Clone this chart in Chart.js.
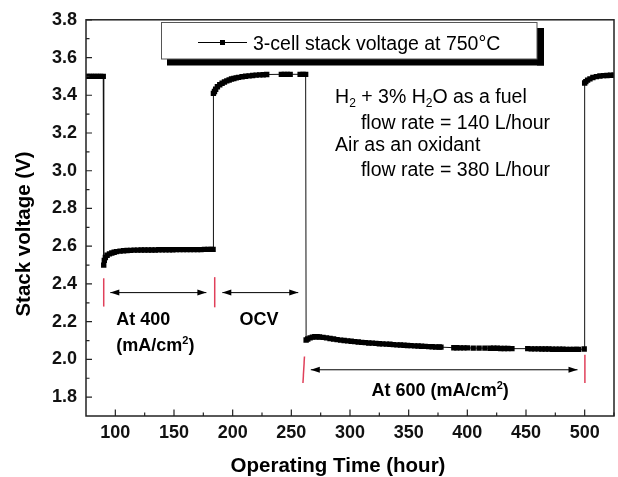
<!DOCTYPE html>
<html>
<head>
<meta charset="utf-8">
<title>3-cell stack voltage</title>
<script src="https://cdn.jsdelivr.net/npm/chart.js@4.4.0/dist/chart.umd.min.js"></script>
<style>
  body { margin: 0; background: #fff; }
  canvas { display: block; }
</style>
</head>
<body>
<canvas id="myChart" width="618" height="477"></canvas>
<script>
// OCV before the first load step
const ocvStartHours = [75.5, 77.5, 79.5, 81.5, 83.5, 85.5, 87.5, 89.7];
const ocvStartVolts = [3.50, 3.50, 3.50, 3.50, 3.50, 3.50, 3.50, 3.50];

// 400 mA/cm2
const load400Hours = [90.1, 90.6, 91.5, 93, 95, 97, 99, 101,
  104, 107, 110, 113, 116, 119, 122, 125, 128, 131,
  134, 137, 140, 143, 146, 149, 152, 155, 158, 161,
  164, 167, 170, 173, 176, 179, 181.5, 183.3];
const load400Volts = [2.50, 2.525, 2.54, 2.552, 2.559, 2.564, 2.568, 2.571,
  2.574, 2.576, 2.577, 2.578, 2.579, 2.579, 2.58, 2.58, 2.58, 2.58,
  2.58, 2.581, 2.581, 2.581, 2.581, 2.581, 2.582, 2.582, 2.582, 2.582,
  2.582, 2.582, 2.582, 2.582, 2.583, 2.583, 2.583, 2.583];

// OCV between the loads
const ocvMidHours = [183.6, 184.5, 185.5, 187, 189, 191, 193, 195, 197, 199,
  201, 203, 205, 208, 211, 214, 217, 220, 223, 226,
  229, 241.5, 244, 246.5, 249, 257.5, 260, 262.2];
const ocvMidVolts = [3.41, 3.42, 3.432, 3.445, 3.456, 3.464, 3.47, 3.476, 3.481, 3.486,
  3.489, 3.492, 3.495, 3.498, 3.501, 3.503, 3.505, 3.507, 3.508, 3.509,
  3.51, 3.511, 3.511, 3.511, 3.511, 3.511, 3.511, 3.511];

// 600 mA/cm2
const load600Hours = [262.6, 264, 266, 268, 270, 272, 274, 277, 280, 283,
  286, 289, 292, 295, 298, 301, 304, 307, 310, 313,
  316, 319, 322, 325, 328, 331, 334, 337, 340, 343,
  346, 349, 352, 355, 358, 361, 364, 367, 370, 373,
  376, 377.5, 388.5, 391, 394, 397, 400, 405, 410, 415,
  419.5, 422.5, 425.5, 428.5, 431.5, 434.5, 438, 451.5, 454.5, 457.5,
  460.5, 463.5, 466.5, 469.5, 472.5, 475.5, 478.5, 481.5, 484.5, 487.5,
  490.5, 493, 494.7, 499.6];
const load600Volts = [2.103, 2.108, 2.114, 2.118, 2.12, 2.12, 2.119, 2.117, 2.114, 2.111,
  2.108, 2.105, 2.102, 2.1, 2.098, 2.096, 2.094, 2.092, 2.09, 2.089,
  2.087, 2.086, 2.085, 2.083, 2.082, 2.081, 2.08, 2.078, 2.077, 2.076,
  2.075, 2.074, 2.073, 2.072, 2.071, 2.07, 2.069, 2.068, 2.067, 2.066,
  2.066, 2.065, 2.062, 2.062, 2.061, 2.061, 2.061, 2.06, 2.06, 2.06,
  2.059, 2.059, 2.059, 2.058, 2.058, 2.058, 2.057, 2.057, 2.056, 2.056,
  2.056, 2.055, 2.055, 2.055, 2.054, 2.054, 2.054, 2.054, 2.053, 2.053,
  2.053, 2.053, 2.053, 2.055];

// OCV after unloading
const ocvEndHours = [500, 501, 502.5, 504.5, 507, 510, 513, 516, 519, 522, 525];
const ocvEndVolts = [3.465, 3.472, 3.48, 3.487, 3.494, 3.499, 3.502, 3.504, 3.505, 3.506, 3.506];

const xTicks = [100, 150, 200, 250, 300, 350, 400, 450, 500];
const yTicks = [1.8, 2.0, 2.2, 2.4, 2.6, 2.8, 3.0, 3.2, 3.4, 3.6, 3.8];

const seriesLabel = '3-cell stack voltage at 750\u00B0C';

const FONT = '"Liberation Sans", Arial, Helvetica, sans-serif';

function toPoints(hours, volts) {
  return hours.map((h, i) => ({ x: h, y: volts[i] }));
}

const points = [].concat(
  toPoints(ocvStartHours, ocvStartVolts),
  toPoints(load400Hours, load400Volts),
  toPoints(ocvMidHours, ocvMidVolts),
  toPoints(load600Hours, load600Volts),
  toPoints(ocvEndHours, ocvEndVolts)
);

// annotations, in data units
const redMarks = [
  { h1: 90.1, v1: 2.43, h2: 90.1, v2: 2.28 },
  { h1: 184.7, v1: 2.436, h2: 184.7, v2: 2.276 },
  { h1: 261.2, v1: 2.015, h2: 259.9, v2: 1.875 },
  { h1: 500.2, v1: 2.024, h2: 500.2, v2: 1.875 }
];
const arrows = [
  { h1: 95.7, h2: 177.6, v: 2.354 },
  { h1: 191.2, h2: 255.9, v: 2.354 },
  { h1: 266.6, h2: 493.9, v: 1.945 }
];

function richText(ctx, x, y, parts, size, weight) {
  parts.forEach(p => {
    const small = p.sub || p.sup;
    const s = small ? Math.round(size * 0.62) : size;
    ctx.font = weight + ' ' + s + 'px ' + FONT;
    let dy = 0;
    if (p.sub) dy = size * 0.22;
    if (p.sup) dy = -size * 0.42;
    ctx.fillText(p.t, x, y + dy);
    x += ctx.measureText(p.t).width;
  });
}

function drawArrow(ctx, x1, x2, y) {
  ctx.beginPath();
  ctx.moveTo(x1, y);
  ctx.lineTo(x2, y);
  ctx.stroke();
  [[x1, 1], [x2, -1]].forEach(([x, d]) => {
    ctx.beginPath();
    ctx.moveTo(x, y);
    ctx.lineTo(x + d * 9, y - 3);
    ctx.lineTo(x + d * 9, y + 3);
    ctx.closePath();
    ctx.fill();
  });
}

const decorPlugin = {
  id: 'decor',
  afterDraw(chart) {
    const ctx = chart.ctx;
    const area = chart.chartArea;
    const xs = chart.scales.x;
    const ys = chart.scales.y;
    ctx.save();

    // frame
    ctx.strokeStyle = '#222';
    ctx.lineWidth = 1.5;
    ctx.strokeRect(area.left, area.top, area.right - area.left, area.bottom - area.top);

    // inward ticks
    ctx.lineWidth = 1.2;
    ctx.beginPath();
    for (let i = 18; i <= 38; i++) {
      const y = ys.getPixelForValue(i / 10);
      const len = i % 2 === 0 ? 6 : 3.5;
      ctx.moveTo(area.left, y);
      ctx.lineTo(area.left + len, y);
    }
    for (let h = 100; h <= 525; h += 25) {
      const x = xs.getPixelForValue(h);
      const len = h % 50 === 0 ? 6.5 : 3.5;
      ctx.moveTo(x, area.bottom);
      ctx.lineTo(x, area.bottom - len);
    }
    ctx.stroke();

    // legend box with shadow
    ctx.fillStyle = '#000';
    ctx.fillRect(167, 59, 377, 6.5);
    ctx.fillRect(537, 28, 7, 37.5);
    ctx.fillStyle = '#fff';
    ctx.fillRect(161, 22.5, 376, 36.5);
    ctx.strokeStyle = '#555';
    ctx.lineWidth = 1;
    ctx.strokeRect(161.5, 22.5, 375.5, 36.5);
    ctx.strokeStyle = '#000';
    ctx.beginPath();
    ctx.moveTo(198, 42.5);
    ctx.lineTo(247, 42.5);
    ctx.stroke();
    ctx.fillStyle = '#000';
    ctx.fillRect(220, 40, 5, 5);
    ctx.font = '19.5px ' + FONT;
    ctx.textAlign = 'left';
    ctx.textBaseline = 'alphabetic';
    ctx.fillText(seriesLabel, 253, 49.5);

    // red markers
    ctx.strokeStyle = '#e0405a';
    ctx.lineWidth = 1.5;
    redMarks.forEach(m => {
      ctx.beginPath();
      ctx.moveTo(xs.getPixelForValue(m.h1), ys.getPixelForValue(m.v1));
      ctx.lineTo(xs.getPixelForValue(m.h2), ys.getPixelForValue(m.v2));
      ctx.stroke();
    });

    // arrows
    ctx.strokeStyle = '#000';
    ctx.fillStyle = '#000';
    ctx.lineWidth = 1;
    arrows.forEach(a => {
      drawArrow(ctx, xs.getPixelForValue(a.h1), xs.getPixelForValue(a.h2), ys.getPixelForValue(a.v));
    });

    // region labels
    const px = h => xs.getPixelForValue(h);
    const py = v => ys.getPixelForValue(v);
    ctx.font = 'bold 18px ' + FONT;
    ctx.fillText('At 400', px(100.8), py(2.182));
    ctx.fillText('OCV', px(205.9), py(2.182));
    richText(ctx, px(100.8), py(2.042), [{ t: '(mA/cm' }, { t: '2', sup: true }, { t: ')' }], 18, 'bold');
    richText(ctx, px(318.4), py(1.804), [{ t: 'At 600 (mA/cm' }, { t: '2', sup: true }, { t: ')' }], 18, 'bold');

    // operating conditions
    richText(ctx, px(287.3), py(3.361), [
      { t: 'H' }, { t: '2', sub: true }, { t: ' + 3% H' }, { t: '2', sub: true }, { t: 'O as a fuel' }
    ], 19.5, 'normal');
    ctx.font = '19.5px ' + FONT;
    ctx.fillText('flow rate = 140 L/hour', px(309.3), py(3.222));
    ctx.fillText('Air as an oxidant', px(287.3), py(3.103));
    ctx.fillText('flow rate = 380 L/hour', px(309.3), py(2.971));

    // axis titles
    ctx.font = 'bold 20.5px ' + FONT;
    ctx.textAlign = 'center';
    ctx.textBaseline = 'middle';
    ctx.fillText('Operating Time (hour)', 338, 466);
    ctx.translate(24, 234);
    ctx.rotate(-Math.PI / 2);
    ctx.fillText('Stack voltage (V)', 0, 0);

    ctx.restore();
  }
};

new Chart(document.getElementById('myChart'), {
  type: 'line',
  data: {
    datasets: [{
      label: seriesLabel,
      data: points,
      borderColor: '#111',
      borderWidth: 1,
      backgroundColor: '#000',
      pointStyle: 'rect',
      pointRadius: 3.8,
      pointBorderWidth: 0,
      pointBackgroundColor: '#000',
      tension: 0
    }]
  },
  options: {
    responsive: false,
    animation: false,
    layout: { padding: { top: 18, right: 1, left: 0, bottom: 0 } },
    plugins: {
      legend: { display: false },
      tooltip: { enabled: false }
    },
    scales: {
      x: {
        type: 'linear',
        min: 75,
        max: 525,
        grid: { display: false, drawTicks: false },
        border: { display: false },
        afterFit: s => { s.height = 61; },
        afterBuildTicks: s => { s.ticks = xTicks.map(v => ({ value: v })); },
        ticks: {
          padding: 6.5,
          color: '#111',
          font: { family: FONT, size: 18, weight: 'bold' },
          maxRotation: 0,
          autoSkip: false
        }
      },
      y: {
        type: 'linear',
        min: 1.7,
        max: 3.8,
        grid: { display: false, drawTicks: false },
        border: { display: false },
        afterFit: s => { s.width = 86; },
        afterBuildTicks: s => { s.ticks = yTicks.map(v => ({ value: v })); },
        ticks: {
          padding: 9,
          color: '#111',
          font: { family: FONT, size: 18, weight: 'bold' },
          callback: v => v.toFixed(1)
        }
      }
    }
  },
  plugins: [decorPlugin]
});
</script>
</body>
</html>
